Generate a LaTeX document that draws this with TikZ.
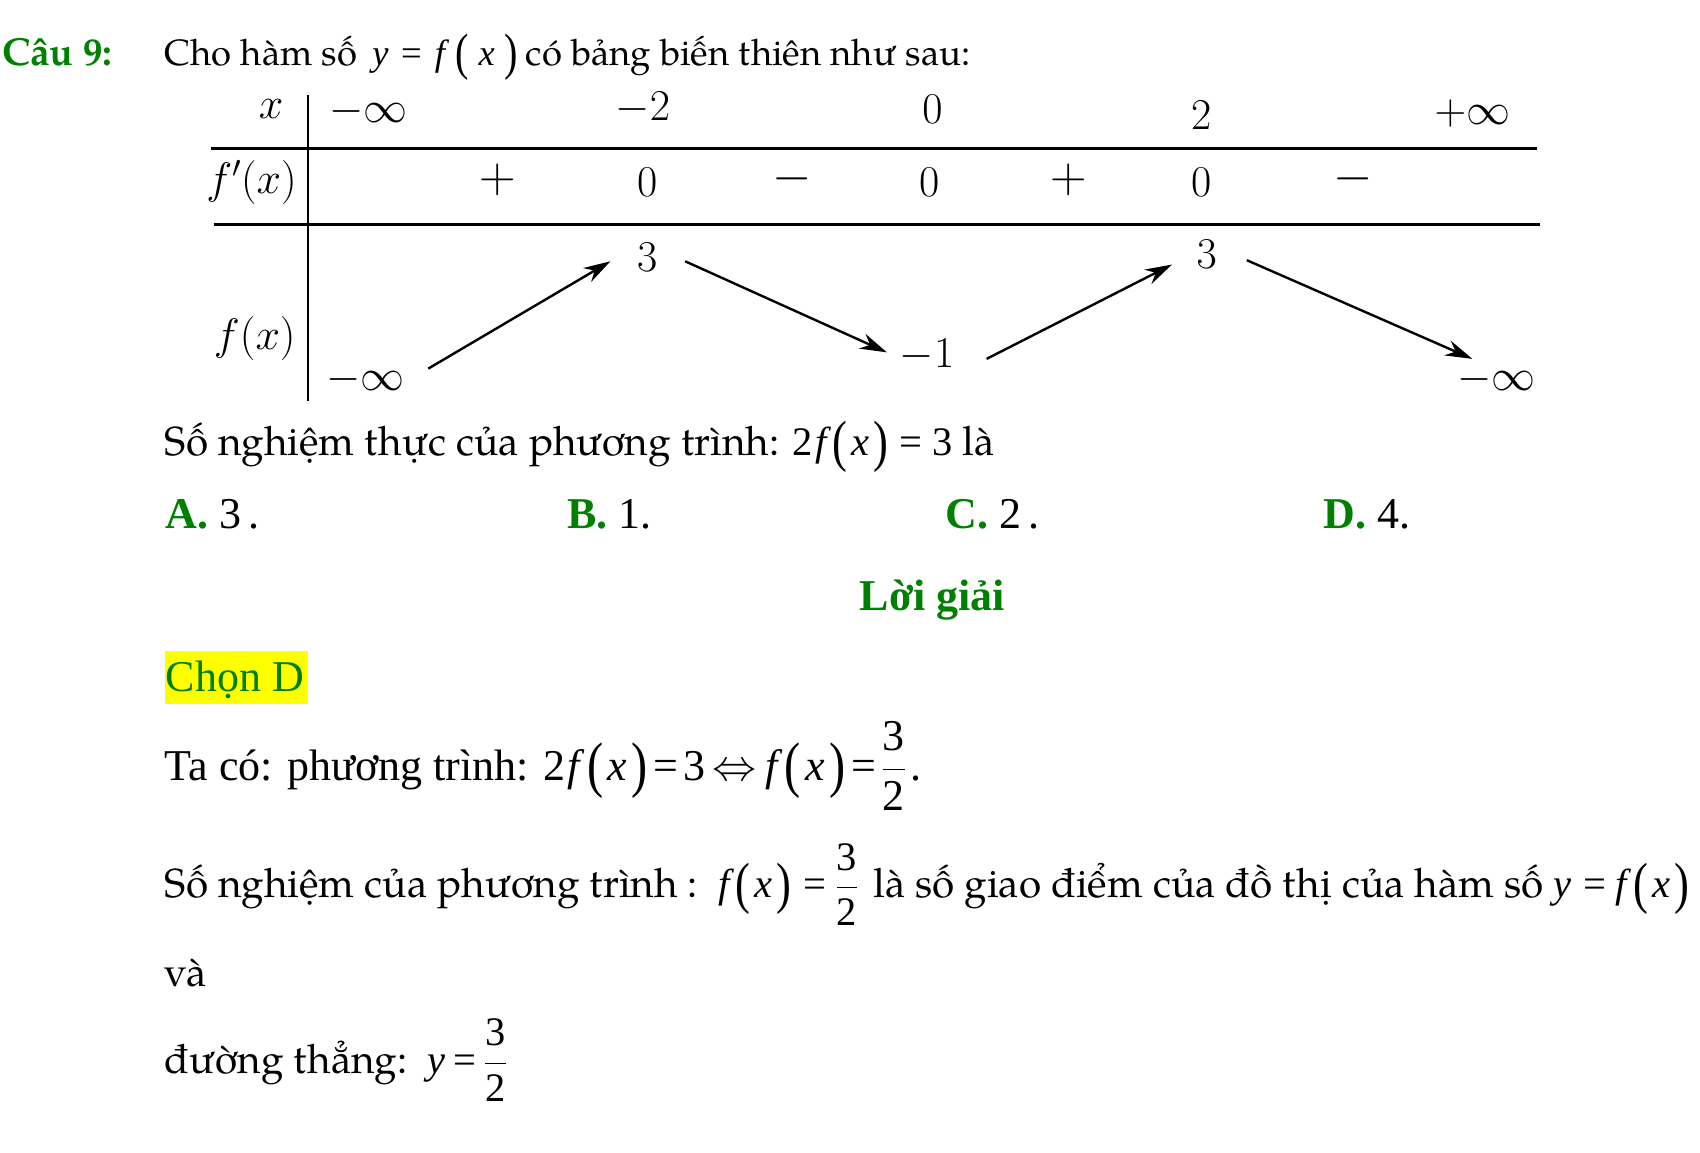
\RequirePackage{fix-cm}
\documentclass[tikz,border=0pt]{standalone}
\usepackage{amsmath}
\usepackage{graphicx}
\usepackage[no-math]{fontspec}
\setmainfont{TeX Gyre Pagella}
\newfontfamily\tms{Liberation Serif}
\usetikzlibrary{arrows.meta}
\definecolor{dgreen}{RGB}{0,128,0}
\definecolor{hlyellow}{RGB}{255,255,0}
\newcommand{\pal}{\fontsize{40.5}{48}\selectfont}
\newcommand{\palsm}{\fontsize{36.5}{44}\selectfont}
\newcommand{\tim}{\tms\fontsize{44}{52}\selectfont}
\newcommand{\tab}{\fontsize{44}{52}\selectfont}
\newcommand{\vi}[1]{{\tms\itshape #1}}
\newcommand{\lp}{\raisebox{-0.12em}{\scalebox{1.1}[1.4]{\tms (}}}
\newcommand{\rp}{\raisebox{-0.12em}{\scalebox{1.1}[1.4]{\tms )}}}
\newcommand{\eql}{0.28em}
\newcommand{\eqr}{0.24em}
\newcommand{\fpg}{0.16em}
\newcommand{\ing}{0.1em}
\newcommand{\eqs}{\hspace{\eql}{\tms =}\hspace{\eqr}}
\newcommand{\fx}{\vi{f}\hspace{\fpg}\lp\hspace{\ing}\vi{x}\hspace{\ing}\rp}
\newcommand{\frtt}{\ensuremath{\genfrac{}{}{0.9pt}{0}{\text{\tms 3}}{\text{\tms 2}}}}
\newcommand{\bsg}[1]{\scalebox{1.15}{$#1$}}
\tikzset{
  txt/.style={anchor=base west, inner sep=0pt, outer sep=0pt},
  tm/.style={anchor=center, inner sep=0pt, outer sep=0pt, font=\tab},
  tline/.style={line width=2.6pt},
  varr/.style={line width=2.4pt, -{Stealth[length=27pt,width=16pt]}}
}
\begin{document}
\begin{tikzpicture}[x=1.0842pt,y=-1.0842pt]
\useasboundingbox (0,0) rectangle (1568,1063.4);
% heading
\node[txt, font=\fontsize{39}{46}\selectfont\bfseries, text=dgreen] (cau) at (2,60) {Câu 9:};
\node[txt, font=\palsm] (l1) at (152,60) {\def\eql{0.34em}\def\eqr{0.36em}\def\fpg{0.3em}\def\ing{0.26em}%
Cho hàm số \,\vi{y}\eqs\fx\hspace{0.22em}có bảng biến thiên như sau:};
% table lines
\coordinate (vt) at (284,88);
\coordinate (vb) at (284,370);
\coordinate (h1l) at (195,137);
\coordinate (h1r) at (1418,137);
\coordinate (h2l) at (197,207);
\coordinate (h2r) at (1420,207);
\draw[tline] (vt) -- (vb);
\draw[tline] (h1l) -- (h1r);
\draw[tline] (h2l) -- (h2r);
% x row
\node[tm] (xl) at (250,101) {$x$};
\node[tm] (x1) at (340,103) {$-\infty$};
\node[tm] (x2) at (593,100) {$-2$};
\node[tm] (x3) at (860,101) {$0$};
\node[tm] (x4) at (1108,106) {$2$};
\node[tm] (x5) at (1358,105) {$+\infty$};
% f' row
\node[tm] (dl) at (232,168) {$f'(x)$};
\node[tm] (d1) at (459,166) {\bsg{+}};
\node[tm] (d2) at (597,168) {$0$};
\node[tm] (d3) at (731,165) {\bsg{-}};
\node[tm] (d4) at (857,168) {$0$};
\node[tm] (d5) at (986,166) {\bsg{+}};
\node[tm] (d6) at (1108,168) {$0$};
\node[tm] (d7) at (1248,165) {\bsg{-}};
% f row
\node[tm] (fl) at (235,312) {$f(x)$};
\node[tm] (f1) at (337,350) {$-\infty$};
\node[tm] (f2) at (597,237) {$3$};
\node[tm] (f3) at (855,328) {$-1$};
\node[tm] (f4) at (1113,235) {$3$};
\node[tm] (f5) at (1380,350) {$-\infty$};
\coordinate (a1s) at (395,340); \coordinate (a1e) at (563,241);
\coordinate (a2s) at (632,241); \coordinate (a2e) at (818,325);
\coordinate (a3s) at (910,331); \coordinate (a3e) at (1081,244);
\coordinate (a4s) at (1150,240); \coordinate (a4e) at (1358,331);
\draw[varr] (a1s) -- (a1e);
\draw[varr] (a2s) -- (a2e);
\draw[varr] (a3s) -- (a3e);
\draw[varr] (a4s) -- (a4e);
% question
\node[txt, font=\pal] (q) at (152,420) {Số nghiệm thực của phương trình: {\tms 2}\hspace{0.05em}\fx\eqs{\tms 3} là};
% answers
\node[txt, font=\tim] (ansA) at (153,487) {{\bfseries\color{dgreen}A.} 3\,.};
\node[txt, font=\tim] (ansB) at (523,487) {{\bfseries\color{dgreen}B.} 1.};
\node[txt, font=\tim] (ansC) at (872,487) {{\bfseries\color{dgreen}C.} 2\,.};
\node[txt, font=\tim] (ansD) at (1221,487) {{\bfseries\color{dgreen}D.} 4.};
% solution
\node[anchor=base, inner sep=0pt, font=\tim\bfseries, text=dgreen] (lg) at (860,563) {Lời giải};
\fill[hlyellow] (152,600) rectangle (284,649);
\node[txt, font=\tim, text=dgreen] (chon) at (153,638) {Chọn D};
\node[txt, font=\tim] (s1) at (152,720) {\def\eql{0.14em}\def\eqr{0.12em}%
Ta có: phương trình: 2\hspace{0.05em}\fx\eqs 3\hspace{0.15em}$\Leftrightarrow$\hspace{0.2em}\fx\eqs\frtt\hspace{0.1em}.};
\node[txt, font=\pal] (s2) at (152,828) {Số nghiệm của phương trình : \,\fx\eqs\frtt\hspace{0.12em} là số giao điểm của đồ thị của hàm số \vi{y}\eqs\fx};
\node[txt, font=\pal] (s3) at (152,910) {và};
\node[txt, font=\pal] (s4) at (152,990) {\def\eql{0.2em}\def\eqr{0.18em}%
đường thẳng: \,\vi{y}\eqs\frtt};
\end{tikzpicture}
\end{document}
